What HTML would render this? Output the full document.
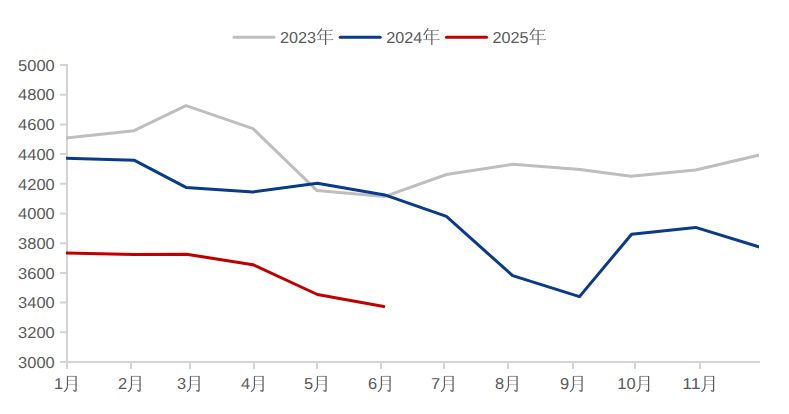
<!DOCTYPE html>
<html lang="zh"><head><meta charset="utf-8"><title>chart</title>
<style>html,body{margin:0;padding:0;background:#fff;}body{width:789px;height:414px;overflow:hidden;font-family:"Liberation Sans",sans-serif;}svg{display:block;}</style></head>
<body>
<svg width="789" height="414" viewBox="0 0 789 414">
<rect width="789" height="414" fill="#fff"/>
<g stroke="#D4D4D4" stroke-width="2" fill="none">
<path d="M67 64V369" shape-rendering="crispEdges"/>
<path d="M60 362H760" shape-rendering="crispEdges"/>
<path d="M60 65.00H66M60 94.70H66M60 124.40H66M60 154.10H66M60 183.80H66M60 213.50H66M60 243.20H66M60 272.90H66M60 302.60H66M60 332.30H66"/>
<path d="M131 363V369M190 363V369M254 363V369M317 363V369M381 363V369M444 363V369M508 363V369M573 363V369M635 363V369M700 363V369" shape-rendering="crispEdges"/>
</g>
<defs><clipPath id="plot"><rect x="66" y="50" width="693" height="320"/></clipPath></defs>
<g clip-path="url(#plot)" fill="none" stroke-width="3" stroke-linejoin="round" stroke-linecap="butt">
<polyline points="62.00,138.54 134.00,130.70 186.00,105.70 253.00,128.70 317.00,190.60 384.50,196.60 446.40,174.50 513.00,164.30 580.00,169.50 631.00,176.20 695.60,170.00 764.00,153.94" stroke="#BEBEBE"/>
<polyline points="62.00,158.05 134.00,160.20 186.00,187.40 253.00,191.90 317.40,183.20 384.80,194.90 446.40,216.40 512.60,275.60 579.50,296.60 631.60,234.20 695.60,227.40 764.00,248.38" stroke="#0A3A8A"/>
<polyline points="62.00,252.90 134.00,254.40 186.50,254.20 253.00,264.70 317.40,294.50 383.80,306.50" stroke="#C00000" stroke-linecap="round"/>
</g>
<g font-family="'Liberation Sans', sans-serif" font-size="15.8" fill="#595959" text-rendering="geometricPrecision">
<text x="18.1" y="70.75" textLength="36.6" lengthAdjust="spacingAndGlyphs">5000</text>
<text x="18.1" y="100.45" textLength="36.6" lengthAdjust="spacingAndGlyphs">4800</text>
<text x="18.1" y="130.15" textLength="36.6" lengthAdjust="spacingAndGlyphs">4600</text>
<text x="18.1" y="159.85" textLength="36.6" lengthAdjust="spacingAndGlyphs">4400</text>
<text x="18.1" y="189.55" textLength="36.6" lengthAdjust="spacingAndGlyphs">4200</text>
<text x="18.1" y="219.25" textLength="36.6" lengthAdjust="spacingAndGlyphs">4000</text>
<text x="18.1" y="248.95" textLength="36.6" lengthAdjust="spacingAndGlyphs">3800</text>
<text x="18.1" y="278.65" textLength="36.6" lengthAdjust="spacingAndGlyphs">3600</text>
<text x="18.1" y="308.35" textLength="36.6" lengthAdjust="spacingAndGlyphs">3400</text>
<text x="18.1" y="338.05" textLength="36.6" lengthAdjust="spacingAndGlyphs">3200</text>
<text x="18.1" y="367.75" textLength="36.6" lengthAdjust="spacingAndGlyphs">3000</text>
<text x="53.875" y="389.45" textLength="9.15" lengthAdjust="spacingAndGlyphs">1</text>
<g transform="translate(63.625,375.8) scale(0.97,1)" fill="none" stroke="#595959" stroke-linecap="butt"><path d="M3.6 0.6H13" stroke-width="0.9" opacity="0.75"/><path d="M3.9 4.7H12.6M3.9 8.8H12.6" stroke-width="0.8" opacity="0.5"/><path d="M3.9 0.4V9.6C3.9 12.6 2.6 14.6 0.3 15.9" stroke-width="1.15"/><path d="M12.8 0.2V14.6C12.8 15.4 12.3 15.5 11.6 15.3L9.9 14.7" stroke-width="1.25"/></g>
<text x="117.875" y="389.45" textLength="9.15" lengthAdjust="spacingAndGlyphs">2</text>
<g transform="translate(127.625,375.8) scale(0.97,1)" fill="none" stroke="#595959" stroke-linecap="butt"><path d="M3.6 0.6H13" stroke-width="0.9" opacity="0.75"/><path d="M3.9 4.7H12.6M3.9 8.8H12.6" stroke-width="0.8" opacity="0.5"/><path d="M3.9 0.4V9.6C3.9 12.6 2.6 14.6 0.3 15.9" stroke-width="1.15"/><path d="M12.8 0.2V14.6C12.8 15.4 12.3 15.5 11.6 15.3L9.9 14.7" stroke-width="1.25"/></g>
<text x="176.875" y="389.45" textLength="9.15" lengthAdjust="spacingAndGlyphs">3</text>
<g transform="translate(186.625,375.8) scale(0.97,1)" fill="none" stroke="#595959" stroke-linecap="butt"><path d="M3.6 0.6H13" stroke-width="0.9" opacity="0.75"/><path d="M3.9 4.7H12.6M3.9 8.8H12.6" stroke-width="0.8" opacity="0.5"/><path d="M3.9 0.4V9.6C3.9 12.6 2.6 14.6 0.3 15.9" stroke-width="1.15"/><path d="M12.8 0.2V14.6C12.8 15.4 12.3 15.5 11.6 15.3L9.9 14.7" stroke-width="1.25"/></g>
<text x="240.875" y="389.45" textLength="9.15" lengthAdjust="spacingAndGlyphs">4</text>
<g transform="translate(250.625,375.8) scale(0.97,1)" fill="none" stroke="#595959" stroke-linecap="butt"><path d="M3.6 0.6H13" stroke-width="0.9" opacity="0.75"/><path d="M3.9 4.7H12.6M3.9 8.8H12.6" stroke-width="0.8" opacity="0.5"/><path d="M3.9 0.4V9.6C3.9 12.6 2.6 14.6 0.3 15.9" stroke-width="1.15"/><path d="M12.8 0.2V14.6C12.8 15.4 12.3 15.5 11.6 15.3L9.9 14.7" stroke-width="1.25"/></g>
<text x="303.875" y="389.45" textLength="9.15" lengthAdjust="spacingAndGlyphs">5</text>
<g transform="translate(313.625,375.8) scale(0.97,1)" fill="none" stroke="#595959" stroke-linecap="butt"><path d="M3.6 0.6H13" stroke-width="0.9" opacity="0.75"/><path d="M3.9 4.7H12.6M3.9 8.8H12.6" stroke-width="0.8" opacity="0.5"/><path d="M3.9 0.4V9.6C3.9 12.6 2.6 14.6 0.3 15.9" stroke-width="1.15"/><path d="M12.8 0.2V14.6C12.8 15.4 12.3 15.5 11.6 15.3L9.9 14.7" stroke-width="1.25"/></g>
<text x="367.875" y="389.45" textLength="9.15" lengthAdjust="spacingAndGlyphs">6</text>
<g transform="translate(377.625,375.8) scale(0.97,1)" fill="none" stroke="#595959" stroke-linecap="butt"><path d="M3.6 0.6H13" stroke-width="0.9" opacity="0.75"/><path d="M3.9 4.7H12.6M3.9 8.8H12.6" stroke-width="0.8" opacity="0.5"/><path d="M3.9 0.4V9.6C3.9 12.6 2.6 14.6 0.3 15.9" stroke-width="1.15"/><path d="M12.8 0.2V14.6C12.8 15.4 12.3 15.5 11.6 15.3L9.9 14.7" stroke-width="1.25"/></g>
<text x="430.875" y="389.45" textLength="9.15" lengthAdjust="spacingAndGlyphs">7</text>
<g transform="translate(440.625,375.8) scale(0.97,1)" fill="none" stroke="#595959" stroke-linecap="butt"><path d="M3.6 0.6H13" stroke-width="0.9" opacity="0.75"/><path d="M3.9 4.7H12.6M3.9 8.8H12.6" stroke-width="0.8" opacity="0.5"/><path d="M3.9 0.4V9.6C3.9 12.6 2.6 14.6 0.3 15.9" stroke-width="1.15"/><path d="M12.8 0.2V14.6C12.8 15.4 12.3 15.5 11.6 15.3L9.9 14.7" stroke-width="1.25"/></g>
<text x="494.875" y="389.45" textLength="9.15" lengthAdjust="spacingAndGlyphs">8</text>
<g transform="translate(504.625,375.8) scale(0.97,1)" fill="none" stroke="#595959" stroke-linecap="butt"><path d="M3.6 0.6H13" stroke-width="0.9" opacity="0.75"/><path d="M3.9 4.7H12.6M3.9 8.8H12.6" stroke-width="0.8" opacity="0.5"/><path d="M3.9 0.4V9.6C3.9 12.6 2.6 14.6 0.3 15.9" stroke-width="1.15"/><path d="M12.8 0.2V14.6C12.8 15.4 12.3 15.5 11.6 15.3L9.9 14.7" stroke-width="1.25"/></g>
<text x="559.875" y="389.45" textLength="9.15" lengthAdjust="spacingAndGlyphs">9</text>
<g transform="translate(569.625,375.8) scale(0.97,1)" fill="none" stroke="#595959" stroke-linecap="butt"><path d="M3.6 0.6H13" stroke-width="0.9" opacity="0.75"/><path d="M3.9 4.7H12.6M3.9 8.8H12.6" stroke-width="0.8" opacity="0.5"/><path d="M3.9 0.4V9.6C3.9 12.6 2.6 14.6 0.3 15.9" stroke-width="1.15"/><path d="M12.8 0.2V14.6C12.8 15.4 12.3 15.5 11.6 15.3L9.9 14.7" stroke-width="1.25"/></g>
<text x="617.3" y="389.45" textLength="18.3" lengthAdjust="spacingAndGlyphs">10</text>
<g transform="translate(636.2,375.8) scale(0.97,1)" fill="none" stroke="#595959" stroke-linecap="butt"><path d="M3.6 0.6H13" stroke-width="0.9" opacity="0.75"/><path d="M3.9 4.7H12.6M3.9 8.8H12.6" stroke-width="0.8" opacity="0.5"/><path d="M3.9 0.4V9.6C3.9 12.6 2.6 14.6 0.3 15.9" stroke-width="1.15"/><path d="M12.8 0.2V14.6C12.8 15.4 12.3 15.5 11.6 15.3L9.9 14.7" stroke-width="1.25"/></g>
<text x="682.3" y="389.45" textLength="18.3" lengthAdjust="spacingAndGlyphs">11</text>
<g transform="translate(701.2,375.8) scale(0.97,1)" fill="none" stroke="#595959" stroke-linecap="butt"><path d="M3.6 0.6H13" stroke-width="0.9" opacity="0.75"/><path d="M3.9 4.7H12.6M3.9 8.8H12.6" stroke-width="0.8" opacity="0.5"/><path d="M3.9 0.4V9.6C3.9 12.6 2.6 14.6 0.3 15.9" stroke-width="1.15"/><path d="M12.8 0.2V14.6C12.8 15.4 12.3 15.5 11.6 15.3L9.9 14.7" stroke-width="1.25"/></g>
<path d="M234 37.2H274" stroke="#BEBEBE" stroke-width="3" stroke-linecap="round" fill="none"/>
<text x="280" y="43.1" textLength="36" lengthAdjust="spacingAndGlyphs">2023</text>
<g transform="translate(317.1,27.9)" fill="none" stroke="#595959" stroke-linecap="butt"><path d="M4.9 0.3L0.4 7.0" stroke-width="1.1"/><path d="M3.8 2.6H15" stroke-width="0.85" opacity="0.62"/><path d="M2.6 6.8H13.9" stroke-width="0.85" opacity="0.62"/><path d="M-0.2 11.7H15.9" stroke-width="0.85" opacity="0.62"/><path d="M3.2 6.8V11.7" stroke-width="1.1"/><path d="M8.5 2.6V17" stroke-width="1.2"/><path d="M13.6 2.6L15 1.7L15.6 2.6Z M12.6 6.8L13.9 5.9L14.5 6.8Z M14.5 11.7L15.8 10.8L16.4 11.7Z" fill="#595959" stroke="none"/></g>
<path d="M340.2 37.2H380.2" stroke="#0A3A8A" stroke-width="3" stroke-linecap="round" fill="none"/>
<text x="386.2" y="43.1" textLength="36" lengthAdjust="spacingAndGlyphs">2024</text>
<g transform="translate(423.3,27.9)" fill="none" stroke="#595959" stroke-linecap="butt"><path d="M4.9 0.3L0.4 7.0" stroke-width="1.1"/><path d="M3.8 2.6H15" stroke-width="0.85" opacity="0.62"/><path d="M2.6 6.8H13.9" stroke-width="0.85" opacity="0.62"/><path d="M-0.2 11.7H15.9" stroke-width="0.85" opacity="0.62"/><path d="M3.2 6.8V11.7" stroke-width="1.1"/><path d="M8.5 2.6V17" stroke-width="1.2"/><path d="M13.6 2.6L15 1.7L15.6 2.6Z M12.6 6.8L13.9 5.9L14.5 6.8Z M14.5 11.7L15.8 10.8L16.4 11.7Z" fill="#595959" stroke="none"/></g>
<path d="M446.5 37.2H486.5" stroke="#C00000" stroke-width="3" stroke-linecap="round" fill="none"/>
<text x="492.5" y="43.1" textLength="36" lengthAdjust="spacingAndGlyphs">2025</text>
<g transform="translate(529.6,27.9)" fill="none" stroke="#595959" stroke-linecap="butt"><path d="M4.9 0.3L0.4 7.0" stroke-width="1.1"/><path d="M3.8 2.6H15" stroke-width="0.85" opacity="0.62"/><path d="M2.6 6.8H13.9" stroke-width="0.85" opacity="0.62"/><path d="M-0.2 11.7H15.9" stroke-width="0.85" opacity="0.62"/><path d="M3.2 6.8V11.7" stroke-width="1.1"/><path d="M8.5 2.6V17" stroke-width="1.2"/><path d="M13.6 2.6L15 1.7L15.6 2.6Z M12.6 6.8L13.9 5.9L14.5 6.8Z M14.5 11.7L15.8 10.8L16.4 11.7Z" fill="#595959" stroke="none"/></g>
</g>
</svg>
</body></html>
